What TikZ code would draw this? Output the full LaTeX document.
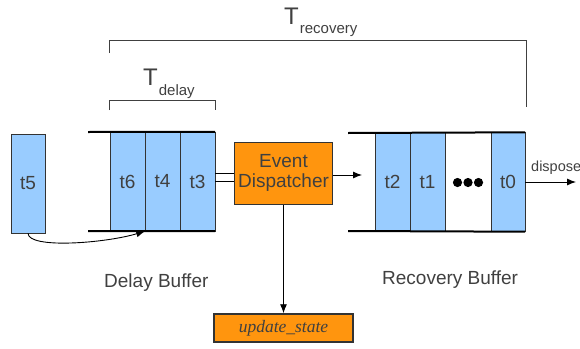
\documentclass[tikz,border=0pt]{standalone}
\usepackage{fontspec}
\setmainfont{Liberation Sans}
\newfontfamily\serifit{Liberation Serif}
\usetikzlibrary{arrows.meta,positioning,calc}
\definecolor{cellblue}{HTML}{99CCFF}
\definecolor{disporange}{HTML}{FF950E}
\definecolor{txtgray}{HTML}{404040}

\begin{document}
\begin{tikzpicture}[x=1pt,y=-1pt,
  cell/.style={rectangle, draw=black!80, fill=cellblue, minimum width=35pt, minimum height=99pt, inner sep=0pt, text=txtgray, font=\fontsize{19}{20}\selectfont},
  box/.style={rectangle, draw=black!80, fill=disporange, line width=1pt, text=txtgray},
  lbl/.style={anchor=base west, inner sep=0pt, text=txtgray},
  bufline/.style={line width=2pt},
  brak/.style={draw=black!75, line width=1pt},
  arr/.style={-{Latex[length=9pt,width=7pt]}, line width=0.9pt}]
  \useasboundingbox (0,0) rectangle (580,348);

  % incoming event
  \node (t5) [cell, minimum width=34pt] at (28,183.5) {t5};

  % delay buffer
  \node (t6) [cell] at (127.5,181.5) {t6};
  \node (t4) [cell] at (162.5,181.5) {t4};
  \node (t3) [cell] at (197.5,181.5) {t3};
  \coordinate (dtop) at (88,132);
  \coordinate (dbot) at (88,231);
  \draw [bufline] (dtop) -- (t3.north east);
  \draw [bufline] (dbot) -- (t3.south east);

  % dispatcher and state update
  \node (disp) [box, minimum width=97pt, minimum height=62pt, align=center, font=\fontsize{19}{20}\selectfont] at (283.5,173) {Event\\Dispatcher};
  \node (upd) [box, minimum width=139pt, minimum height=28pt, line width=1.5pt, font=\serifit\itshape\fontsize{17.5}{18}\selectfont] at (283.5,328) {update\_state};

  % recovery buffer
  \node (t2) [cell] at (392.5,182) {t2};
  \node (t1) [cell] at (427.5,182) {t1};
  \node (dots) [cell, fill=white, minimum width=46pt] at (468,182) {};
  \node (t0) [cell, minimum width=34pt] at (508,182) {t0};
  \foreach \i in {-1,0,1}
    \fill ($(dots.center)+(\i*10.5,0.5)$) circle (4.6);
  \coordinate (rtop) at (348,133);
  \coordinate (rbot) at (348,231);
  \draw [bufline] (rtop) -- (t0.north east);
  \draw [bufline] (rbot) -- (t0.south east);

  % connectors
  \draw [line width=0.9pt] (t3.east |- disp.center) -- (disp.west);
  \draw [line width=0.9pt] (t3.east) -- (t3.east -| disp.west);
  \coordinate (rin) at (362,175);
  \draw [arr] (disp.east |- rin) -- (rin);
  \draw [arr] (disp) -- (upd);
  \coordinate (out) at (576,182);
  \draw [arr] (t0.east) -- (out);
  \node (dispose) [lbl, font=\fontsize{14.5}{15}\selectfont] at (531,171) {dispose};
  \draw [arr] (t5.south) .. controls +(0,16) and +(-40,12) .. (t6.south east);

  % time spans
  \coordinate (rec1) at (109,53);
  \coordinate (rec2) at (526,107);
  \draw [brak] (rec1) -- (rec1 |- 0,40) -- (rec2 |- 0,40) -- (rec2);
  \coordinate (del1) at (109,110);
  \coordinate (del2) at (215,110);
  \draw [brak] (del1) -- (del1 |- 0,100) -- (del2 |- 0,100) -- (del2);
  \node (trec) [lbl] at (284,24) {\fontsize{24}{24}\selectfont T\kern1pt\raisebox{-9pt}{\fontsize{15}{15}\selectfont recovery}};
  \node (tdel) [lbl] at (143,85) {\fontsize{24}{24}\selectfont T\kern1pt\raisebox{-10pt}{\fontsize{15}{15}\selectfont delay}};

  % buffer names
  \node (dname) [lbl, font=\fontsize{19}{20}\selectfont] at (104,287) {Delay Buffer};
  \node (rname) [lbl, font=\fontsize{19}{20}\selectfont] at (382,284) {Recovery Buffer};
\end{tikzpicture}
\end{document}
